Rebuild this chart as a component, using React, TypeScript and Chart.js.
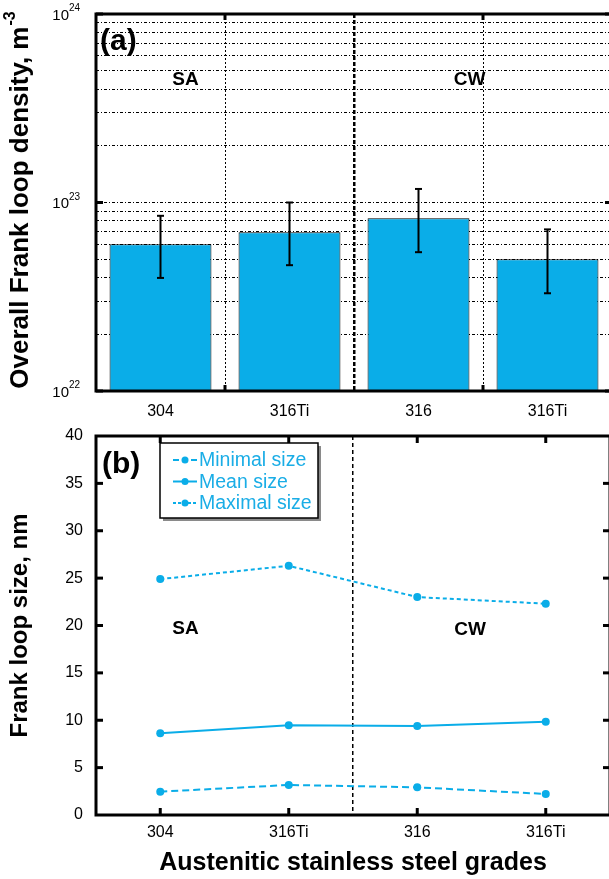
import React, { useEffect, useRef } from "react";
import { Chart, registerables } from "chart.js";
Chart.register(...registerables);

// ---------- data ----------
const grades = ["304", "316Ti", "316", "316Ti"];
const densityValues = [6.0e22, 6.95e22, 8.25e22, 5.0e22];
const densityErrLow = [3.98e22, 4.65e22, 5.45e22, 3.3e22];
const densityErrHigh = [8.5e22, 1.0e23, 1.18e23, 7.2e22];
const densityGridTicks = [
  1e22, 2e22, 3e22, 4e22, 5e22, 6e22, 7e22, 8e22, 9e22,
  1e23, 2e23, 3e23, 4e23, 5e23, 6e23, 7e23, 8e23, 9e23, 1e24,
];
const densityDecades = [1e22, 1e23, 1e24];
const decadeExponents = ["22", "23", "24"];
const minimalSize = [2.46, 3.17, 2.92, 2.22];
const meanSize = [8.62, 9.47, 9.39, 9.85];
const maximalSize = [24.9, 26.3, 23.0, 22.3];
const sizeMarkTicks = [5, 10, 15, 20, 25, 30, 35];
const groupLabels = ["SA", "CW"];

const FONT = "'Liberation Sans', Arial, Helvetica, sans-serif";
const BLUE = "#0AADE8";
const LEG_TEXT = "#1AADE6";

function drawFrame(ctx: CanvasRenderingContext2D, ca: any) {
  ctx.save();
  ctx.strokeStyle = "#000";
  ctx.lineWidth = 3;
  ctx.strokeRect(ca.left, ca.top, ca.right - ca.left, ca.bottom - ca.top);
  ctx.restore();
}

function seg(ctx: CanvasRenderingContext2D, x1: number, y1: number, x2: number, y2: number) {
  ctx.beginPath();
  ctx.moveTo(x1, y1);
  ctx.lineTo(x2, y2);
  ctx.stroke();
}

const errorBarPlugin = {
  id: "errorBars",
  afterDatasetsDraw(chart: any) {
    const ctx = chart.ctx;
    const meta = chart.getDatasetMeta(0);
    const ys = chart.scales.y;
    ctx.save();
    ctx.strokeStyle = "#000";
    ctx.lineWidth = 2;
    meta.data.forEach((bar: any, i: number) => {
      const x = bar.x;
      const yh = ys.getPixelForValue(densityErrHigh[i]);
      const yl = ys.getPixelForValue(densityErrLow[i]);
      seg(ctx, x, yh, x, yl);
      seg(ctx, x - 3.5, yh, x + 3.5, yh);
      seg(ctx, x - 3.5, yl, x + 3.5, yl);
    });
    ctx.restore();
  },
};

const topDecor = {
  id: "topDecor",
  afterDraw(chart: any) {
    const ctx: CanvasRenderingContext2D = chart.ctx;
    const ca = chart.chartArea;
    const xs = chart.scales.x;
    const ys = chart.scales.y;
    drawFrame(ctx, ca);
    ctx.save();
    ctx.strokeStyle = "#000";
    ctx.lineWidth = 3;
    [0.5, 2.5].forEach((v) => {
      const x = xs.getPixelForValue(v);
      seg(ctx, x, ca.top, x, ca.top + 6);
      seg(ctx, x, ca.bottom, x, ca.bottom - 6);
    });
    densityDecades.forEach((v) => {
      const y = ys.getPixelForValue(v);
      seg(ctx, ca.left, y, ca.left + 7, y);
      seg(ctx, ca.right, y, ca.right - 7, y);
    });
    ctx.fillStyle = "#000";
    ctx.textBaseline = "middle";
    densityDecades.forEach((v, i) => {
      const y = ys.getPixelForValue(v);
      ctx.font = `15px ${FONT}`;
      ctx.textAlign = "right";
      ctx.fillText("10", ca.left - 27, y + 1.5);
      ctx.font = `10px ${FONT}`;
      ctx.textAlign = "left";
      ctx.fillText(decadeExponents[i], ca.left - 27, y - 5.5);
    });
    // y title with superscript
    ctx.save();
    const main = "Overall Frank loop density, m";
    const sup = "-3";
    ctx.font = `bold 26px ${FONT}`;
    const w1 = ctx.measureText(main).width;
    ctx.font = `bold 16px ${FONT}`;
    const w2 = ctx.measureText(sup).width;
    const cy = (ca.top + ca.bottom) / 2 - 2;
    ctx.translate(21, cy);
    ctx.rotate(-Math.PI / 2);
    ctx.textAlign = "left";
    ctx.textBaseline = "middle";
    ctx.font = `bold 26px ${FONT}`;
    ctx.fillText(main, -(w1 + w2) / 2, 0);
    ctx.font = `bold 16px ${FONT}`;
    ctx.fillText(sup, -(w1 + w2) / 2 + w1 + 1, -10);
    ctx.restore();
    ctx.font = `bold 30px ${FONT}`;
    ctx.textAlign = "left";
    ctx.fillText("(a)", ca.left + 4, ca.top + 28);
    ctx.font = `bold 19px ${FONT}`;
    ctx.textAlign = "center";
    ctx.fillText(groupLabels[0], ca.left + 89.5, ca.top + 66);
    ctx.fillText(groupLabels[1], ca.left + 373.5, ca.top + 66);
    ctx.restore();
  },
};

const bottomDecor = {
  id: "bottomDecor",
  afterDraw(chart: any) {
    const ctx: CanvasRenderingContext2D = chart.ctx;
    const ca = chart.chartArea;
    const xs = chart.scales.x;
    const ys = chart.scales.y;
    drawFrame(ctx, ca);
    ctx.save();
    ctx.strokeStyle = "#000";
    ctx.lineWidth = 3;
    grades.forEach((_, i) => {
      const x = xs.getPixelForValue(i);
      seg(ctx, x, ca.top, x, ca.top + 7);
      seg(ctx, x, ca.bottom, x, ca.bottom - 7);
    });
    sizeMarkTicks.forEach((v) => {
      const y = ys.getPixelForValue(v);
      seg(ctx, ca.left, y, ca.left + 7, y);
      seg(ctx, ca.right, y, ca.right - 7, y);
    });
    ctx.fillStyle = "#000";
    ctx.textBaseline = "middle";
    ctx.font = `bold 30px ${FONT}`;
    ctx.textAlign = "left";
    ctx.fillText("(b)", ca.left + 6, ca.top + 29);
    ctx.font = `bold 19px ${FONT}`;
    ctx.textAlign = "center";
    ctx.fillText(groupLabels[0], ca.left + 89.5, ca.top + 193);
    ctx.fillText(groupLabels[1], ca.left + 374, ca.top + 194);

    // legend
    const bx = ca.left + 64;
    const by = ca.top + 7;
    const bw = 158;
    const bh = 75;
    ctx.fillStyle = "#8a8a8a";
    ctx.fillRect(bx + 3, by + 3, bw, bh);
    ctx.fillStyle = "#fff";
    ctx.fillRect(bx, by, bw, bh);
    ctx.strokeStyle = "#000";
    ctx.lineWidth = 1.5;
    ctx.strokeRect(bx, by, bw, bh);
    chart.data.datasets.forEach((ds: any, i: number) => {
      const y = by + 17 + i * 21.5;
      ctx.save();
      ctx.strokeStyle = ds.borderColor;
      ctx.lineWidth = ds.borderWidth;
      ctx.setLineDash(ds.legendDash);
      seg(ctx, bx + 13, y, bx + 37, y);
      ctx.setLineDash([]);
      ctx.fillStyle = ds.backgroundColor;
      ctx.beginPath();
      ctx.arc(bx + 25, y, 3.5, 0, Math.PI * 2);
      ctx.fill();
      ctx.restore();
      ctx.fillStyle = LEG_TEXT;
      ctx.font = `19.5px ${FONT}`;
      ctx.textAlign = "left";
      ctx.textBaseline = "middle";
      ctx.fillText(ds.label, bx + 39, y + 1);
    });
    ctx.restore();
  },
};

const zeroPad = (s: any) => {
  s.paddingTop = 0;
  s.paddingBottom = 0;
  s.paddingLeft = 0;
  s.paddingRight = 0;
};

export default function App() {
  const topRef = useRef<HTMLCanvasElement>(null);
  const botRef = useRef<HTMLCanvasElement>(null);

  useEffect(() => {
    const topChart = new Chart(topRef.current as HTMLCanvasElement, {
      type: "bar",
      data: {
        labels: grades,
        datasets: [
          {
            label: "Overall Frank loop density",
            data: densityValues,
            backgroundColor: BLUE,
            borderColor: "#000",
            borderWidth: 1,
            barPercentage: 0.79,
            categoryPercentage: 1,
          },
        ],
      },
      options: {
        animation: false,
        responsive: false,
        layout: { padding: { top: 14, right: 2, left: 0, bottom: 0 } },
        plugins: { legend: { display: false }, tooltip: { enabled: false } },
        scales: {
          x: {
            offset: true,
            grid: {
              offset: true,
              drawTicks: false,
              color: (c: any) => (c.index === 0 || c.index >= 4 ? "rgba(0,0,0,0)" : "#000"),
              lineWidth: (c: any) => (c.index === 2 ? 2.5 : 1),
            },
            border: { display: false, dash: (c: any) => (c.index === 2 ? [4, 2] : [2, 2]) } as any,
            ticks: { font: { family: FONT, size: 16 }, color: "#000", padding: 11 },
            afterFit: (s: any) => {
              s.height = 34;
              zeroPad(s);
            },
          },
          y: {
            type: "logarithmic",
            min: 1e22,
            max: 1e24,
            afterBuildTicks: (s: any) => {
              s.ticks = densityGridTicks.map((v) => ({ value: v }));
            },
            grid: { drawTicks: false, color: "#000", lineWidth: 1 },
            border: { display: false, dash: [3, 2, 1, 2] },
            ticks: { display: false },
            afterFit: (s: any) => {
              s.width = 96;
              zeroPad(s);
            },
          },
        },
      } as any,
      plugins: [errorBarPlugin, topDecor],
    });

    const lineDs = (label: string, data: number[], dash: number[], legendDash: number[]) => ({
      label,
      data,
      borderColor: BLUE,
      backgroundColor: BLUE,
      borderWidth: 2,
      borderDash: dash,
      legendDash,
      pointRadius: 4,
      pointBorderWidth: 0,
      pointBackgroundColor: BLUE,
      tension: 0,
      fill: false,
    });

    const botChart = new Chart(botRef.current as HTMLCanvasElement, {
      type: "line",
      data: {
        labels: grades,
        datasets: [
          lineDs("Minimal size", minimalSize, [7, 4], [6, 3]),
          lineDs("Mean size", meanSize, [], []),
          lineDs("Maximal size", maximalSize, [4, 3], [3, 2]),
        ] as any,
      },
      options: {
        animation: false,
        responsive: false,
        layout: { padding: { top: 11, right: 2, left: 0, bottom: 0 } },
        plugins: { legend: { display: false }, tooltip: { enabled: false } },
        scales: {
          x: {
            offset: true,
            grid: {
              offset: true,
              drawTicks: false,
              color: (c: any) => (c.index === 2 ? "#000" : "rgba(0,0,0,0)"),
              lineWidth: 1.5,
            },
            border: { display: false, dash: [4, 3] },
            ticks: { font: { family: FONT, size: 16 }, color: "#000", padding: 8 },
            title: {
              display: true,
              text: "Austenitic stainless steel grades",
              font: { family: FONT, size: 25, weight: "bold" },
              color: "#000",
              padding: { top: 0, bottom: 1 },
            },
            afterFit: (s: any) => {
              s.height = 64;
              zeroPad(s);
            },
          },
          y: {
            min: 0,
            max: 40,
            ticks: { stepSize: 5, font: { family: FONT, size: 16 }, color: "#000", padding: 13 },
            grid: { display: false, drawTicks: false },
            border: { display: false },
            title: {
              display: true,
              text: "Frank loop size, nm",
              font: { family: FONT, size: 24, weight: "bold" },
              color: "#000",
              padding: { top: 6, bottom: 0 },
            },
            afterFit: (s: any) => {
              s.width = 96;
              zeroPad(s);
            },
          },
        },
      } as any,
      plugins: [bottomDecor],
    });

    return () => {
      topChart.destroy();
      botChart.destroy();
    };
  }, []);

  return (
    <div
      style={{
        position: "fixed",
        left: 0,
        top: 0,
        width: 609,
        height: 879,
        overflow: "hidden",
        background: "#fff",
      }}
    >
      <canvas
        ref={topRef}
        width={614}
        height={425}
        style={{ position: "absolute", left: 0, top: 0, width: 614, height: 425 }}
      />
      <canvas
        ref={botRef}
        width={614}
        height={454}
        style={{ position: "absolute", left: 0, top: 425, width: 614, height: 454 }}
      />
    </div>
  );
}
